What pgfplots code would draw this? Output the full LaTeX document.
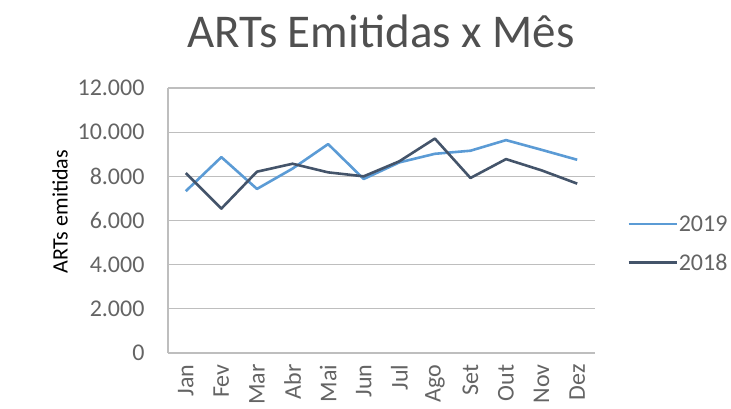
\documentclass[border=0pt]{standalone}
\usepackage{pgfplots}
\pgfplotsset{compat=1.18}
\usepackage{fontspec}
\setmainfont{Carlito}
\definecolor{c2019}{RGB}{91,155,213}
\definecolor{c2018}{RGB}{68,84,106}
\definecolor{tickgray}{RGB}{100,100,100}
\definecolor{titlegray}{RGB}{80,80,80}
\definecolor{gridgray}{RGB}{190,190,190}
\begin{document}
\begin{tikzpicture}
\useasboundingbox (0,0) rectangle (731pt,408pt);
\clip (0,0) rectangle (731pt,408pt);
\node[anchor=base, text=titlegray, font=\fontsize{47}{52}\selectfont] at (381pt,360pt) {ARTs Emitidas x Mês};
\begin{axis}[
  at={(168pt,55pt)}, anchor=south west,
  scale only axis, width=427pt, height=265pt,
  xmin=-0.5, xmax=11.5, ymin=0, ymax=12000,
  ytick={0,2000,...,12000},
  xtick={0,...,11},
  xticklabels={Jan,Fev,Mar,Abr,Mai,Jun,Jul,Ago,Set,Out,Nov,Dez},
  x tick label style={rotate=90, anchor=east, font=\fontsize{24}{28}\selectfont, text=tickgray},
  y tick label style={font=\fontsize{24}{28}\selectfont, text=tickgray},
  xticklabel shift=8pt, yticklabel shift=20pt,
  major tick length=0pt,
  /pgf/number format/.cd, 1000 sep={.}, assume math mode=true, /pgfplots/.cd,
  scaled y ticks=false,
  axis x line*=bottom, axis y line*=left,
  axis line style={draw=gridgray, line width=1.2pt, -},
  ymajorgrids, grid style={draw=gridgray, line width=1.2pt},
  ylabel={ARTs emitidas},
  ylabel style={at={(axis description cs:-0.253,0.533)}, anchor=center, font=\fontsize{22}{26}\selectfont, text=black},
  legend style={at={(axis description cs:1.075,0.413)}, anchor=west, draw=none, fill=none,
    font=\fontsize{24}{28}\selectfont, text=tickgray, row sep=19pt, inner sep=0pt,
    nodes={inner sep=1pt},
    /tikz/every even column/.append style={column sep=0pt}},
  legend cell align=left,
  legend image code/.code={\draw[#1] (0pt,0pt) -- (48pt,0pt);},
]
\addplot[c2019, line width=2.6pt, line join=round] coordinates {
(0,7330) (1,8870) (2,7430) (3,8350) (4,9460) (5,7880) (6,8630) (7,9020) (8,9160) (9,9640) (10,9200) (11,8750)};
\addlegendentry{2019}
\addplot[c2018, line width=2.6pt, line join=round] coordinates {
(0,8150) (1,6540) (2,8210) (3,8570) (4,8180) (5,8000) (6,8680) (7,9710) (8,7925) (9,8780) (10,8270) (11,7670)};
\addlegendentry{2018}
\end{axis}
\end{tikzpicture}
\end{document}
